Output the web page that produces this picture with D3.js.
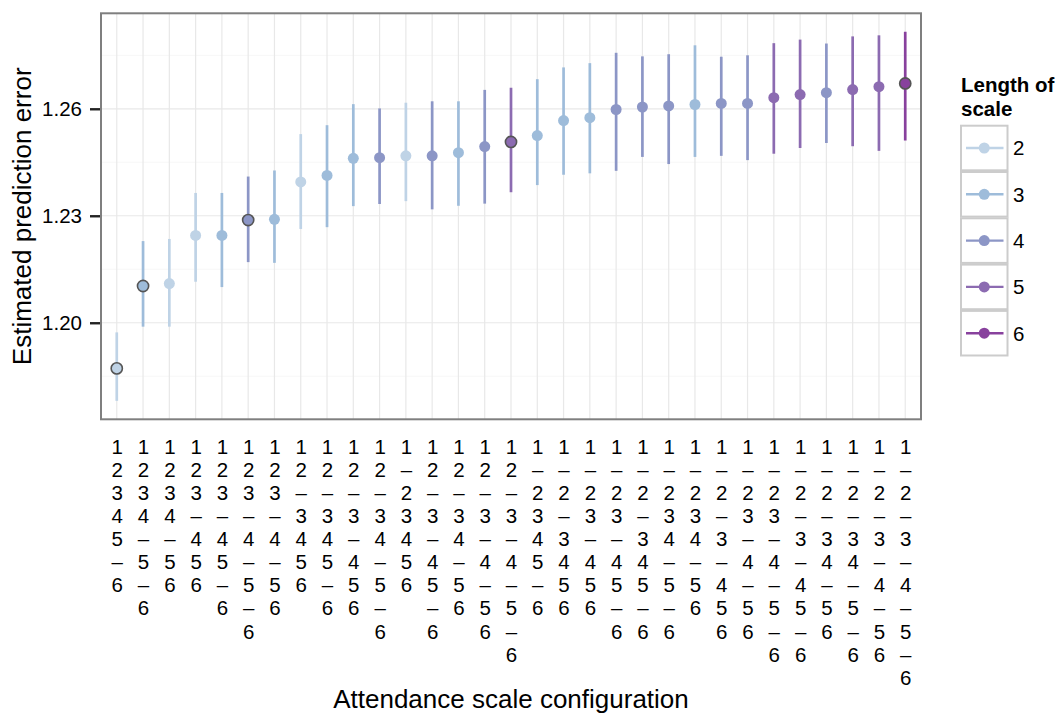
<!DOCTYPE html>
<html>
<head>
<meta charset="utf-8">
<script src="https://cdn.jsdelivr.net/npm/d3@7"></script>
<style>
  html, body { margin: 0; padding: 0; background: #fff; }
  svg { display: block; font-family: "Liberation Sans", Arial, Helvetica, sans-serif; }
</style>
</head>
<body>
<svg id="chart" width="1060" height="716"></svg>
<script>
// Attendance scale configurations (groups of consecutive response options joined, "–" separates groups)
const configs = [
  "12345–6", "1234–5–6", "1234–56", "123–456", "123–45–6", "123–4–5–6", "123–4–56", "12–3456",
  "12–345–6", "12–3–456", "12–34–5–6", "1–23456", "12–3–45–6", "12–34–56", "12–3–4–56", "12–3–4–5–6",
  "1–2345–6", "1–2–3456", "1–23–456", "1–23–45–6", "1–2–345–6", "1–234–5–6", "1–234–56", "1–2–3–456",
  "1–23–4–56", "1–23–4–5–6", "1–2–3–45–6", "1–2–34–56", "1–2–34–5–6", "1–2–3–4–56", "1–2–3–4–5–6"
];

// Number of categories in each configuration
const scaleLength = [2, 3, 2, 2, 3, 4, 3, 2, 3, 3, 4, 2, 4, 3, 4, 5, 3, 3, 3, 4, 4, 4, 3, 4, 4, 5, 5, 4, 5, 5, 6];

// Estimated prediction error with interval bounds
const estimate = [1.1872, 1.2103, 1.2110, 1.2245, 1.2245, 1.2288, 1.2290, 1.2395, 1.2413, 1.2461, 1.2463,
  1.2468, 1.2468, 1.2477, 1.2494, 1.2507, 1.2525, 1.2567, 1.2575, 1.2598, 1.2605, 1.2608, 1.2612, 1.2615,
  1.2615, 1.2631, 1.2640, 1.2645, 1.2654, 1.2662, 1.2671];
const lower = [1.1781, 1.1989, 1.1989, 1.2115, 1.2100, 1.2170, 1.2168, 1.2263, 1.2268, 1.2327, 1.2333,
  1.2341, 1.2318, 1.2328, 1.2334, 1.2366, 1.2386, 1.2415, 1.2419, 1.2426, 1.2465, 1.2445, 1.2465, 1.2468,
  1.2456, 1.2474, 1.2490, 1.2504, 1.2495, 1.2482, 1.2511];
const upper = [1.1973, 1.2229, 1.2235, 1.2364, 1.2364, 1.2410, 1.2427, 1.2529, 1.2554, 1.2613, 1.2601,
  1.2617, 1.2621, 1.2621, 1.2653, 1.2659, 1.2683, 1.2716, 1.2728, 1.2757, 1.2747, 1.2753, 1.2778, 1.2746,
  1.2750, 1.2784, 1.2794, 1.2783, 1.2803, 1.2806, 1.2816];

// Axis ticks and legend entries
const yMajorTicks = [1.20, 1.23, 1.26];
const yMinorTicks = [1.185, 1.215, 1.245, 1.275];
const lengths = [2, 3, 4, 5, 6];
const lengthColors = ["#bfd3e6", "#9ebcda", "#8c96c6", "#8c6bb1", "#88419d"];

const data = configs.map((c, i) => ({
  config: c, len: scaleLength[i], est: estimate[i], lo: lower[i], hi: upper[i]
}));
// Lowest error for each scale length gets an outline
const bestByLen = new Map();
data.forEach(d => {
  const b = bestByLen.get(d.len);
  if (!b || d.est < b.est) bestByLen.set(d.len, d);
});

const svg = d3.select("#chart");
const panel = { left: 101, right: 921, top: 13.3, bottom: 419.3 };

const x = d3.scalePoint().domain(configs).range([panel.left, panel.right]).padding(0.6);
const yLo = d3.min(lower), yHi = d3.max(upper), pad = (yHi - yLo) * 0.05;
const y = d3.scaleLinear().domain([yLo - pad, yHi + pad]).range([panel.bottom, panel.top]);
const color = d3.scaleOrdinal().domain(lengths).range(lengthColors);

// Panel background and grid
svg.append("rect")
  .attr("x", panel.left).attr("y", panel.top)
  .attr("width", panel.right - panel.left).attr("height", panel.bottom - panel.top)
  .attr("fill", "#fff");

const grid = svg.append("g");
grid.selectAll("line.minor").data(yMinorTicks).join("line")
  .attr("x1", panel.left).attr("x2", panel.right)
  .attr("y1", d => y(d)).attr("y2", d => y(d))
  .attr("stroke", "#f7f7f7").attr("stroke-width", 1);
grid.selectAll("line.hmajor").data(yMajorTicks).join("line")
  .attr("x1", panel.left).attr("x2", panel.right)
  .attr("y1", d => y(d)).attr("y2", d => y(d))
  .attr("stroke", "#e8e8e8").attr("stroke-width", 1.2);
grid.selectAll("line.vmajor").data(configs).join("line")
  .attr("y1", panel.top).attr("y2", panel.bottom)
  .attr("x1", d => x(d)).attr("x2", d => x(d))
  .attr("stroke", "#e8e8e8").attr("stroke-width", 1.2);

// Interval bars
svg.append("g").selectAll("line").data(data).join("line")
  .attr("x1", d => x(d.config)).attr("x2", d => x(d.config))
  .attr("y1", d => y(d.lo)).attr("y2", d => y(d.hi))
  .attr("stroke", d => color(d.len)).attr("stroke-width", 2.7);

// Point estimates
svg.append("g").selectAll("circle").data(data).join("circle")
  .attr("cx", d => x(d.config)).attr("cy", d => y(d.est))
  .attr("r", d => bestByLen.get(d.len) === d ? 5.6 : 5.5)
  .attr("fill", d => color(d.len))
  .attr("stroke", d => bestByLen.get(d.len) === d ? "#555" : "none")
  .attr("stroke-width", 1.6);

// Panel border
svg.append("rect")
  .attr("x", panel.left).attr("y", panel.top)
  .attr("width", panel.right - panel.left).attr("height", panel.bottom - panel.top)
  .attr("fill", "none").attr("stroke", "#7f7f7f").attr("stroke-width", 2);

// Y axis
const yAxis = svg.append("g")
  .attr("transform", `translate(${panel.left - 1},0)`)
  .call(d3.axisLeft(y).tickValues(yMajorTicks).tickFormat(d3.format(".2f")).tickSize(10).tickPadding(8));
yAxis.select(".domain").remove();
yAxis.selectAll(".tick line").attr("stroke", "#222").attr("stroke-width", 2.4);
yAxis.selectAll(".tick text").attr("fill", "#000").attr("font-size", 20.5)
  .attr("font-family", "Liberation Sans, Arial, sans-serif");

// X axis with vertically stacked labels
const lineStep = 23.1;
const xAxis = svg.append("g")
  .attr("transform", `translate(0,${panel.bottom})`)
  .call(d3.axisBottom(x).tickSize(0).tickPadding(0));
xAxis.select(".domain").remove();
xAxis.selectAll(".tick text")
  .attr("fill", "#000").attr("font-size", 20.5).attr("y", 0).attr("dy", null)
  .attr("font-family", "Liberation Sans, Arial, sans-serif")
  .text(null)
  .each(function(d) {
    const t = d3.select(this);
    Array.from(d).forEach((ch, k) => {
      t.append("tspan").attr("x", 0).attr("y", 34.5 + k * lineStep).text(ch);
    });
  });

// Axis titles
svg.append("text")
  .attr("x", (panel.left + panel.right) / 2).attr("y", 708)
  .attr("text-anchor", "middle").attr("font-size", 26).attr("fill", "#000")
  .text("Attendance scale configuration");
svg.append("text")
  .attr("transform", `translate(31,${(panel.top + panel.bottom) / 2}) rotate(-90)`)
  .attr("text-anchor", "middle").attr("font-size", 26).attr("fill", "#000")
  .text("Estimated prediction error");

// Legend
const legend = svg.append("g").attr("transform", "translate(961,0)");
legend.append("text").attr("x", 0).attr("y", 92)
  .attr("font-size", 20.5).attr("font-weight", "bold").attr("fill", "#000").text("Length of");
legend.append("text").attr("x", 0).attr("y", 115.5)
  .attr("font-size", 20.5).attr("font-weight", "bold").attr("fill", "#000").text("scale");

const keyTop = 125.7, keyStep = 46.3, keyW = 46.5, keyH = 44.6;
const keys = legend.selectAll("g.key").data(lengths).join("g")
  .attr("transform", (d, i) => `translate(0,${keyTop + i * keyStep})`);
keys.append("rect")
  .attr("x", 0).attr("y", 0).attr("width", keyW).attr("height", keyH)
  .attr("fill", "#fff").attr("stroke", "#cccccc").attr("stroke-width", 2);
keys.append("line")
  .attr("x1", 5).attr("x2", keyW - 4).attr("y1", keyH / 2).attr("y2", keyH / 2)
  .attr("stroke", d => color(d)).attr("stroke-width", 2.4);
keys.append("circle")
  .attr("cx", keyW / 2).attr("cy", keyH / 2).attr("r", 5.5)
  .attr("fill", d => color(d));
keys.append("text")
  .attr("x", keyW + 5.5).attr("y", keyH / 2 + 7.5)
  .attr("font-size", 20.5).attr("fill", "#000").text(d => d);
</script>
</body>
</html>
